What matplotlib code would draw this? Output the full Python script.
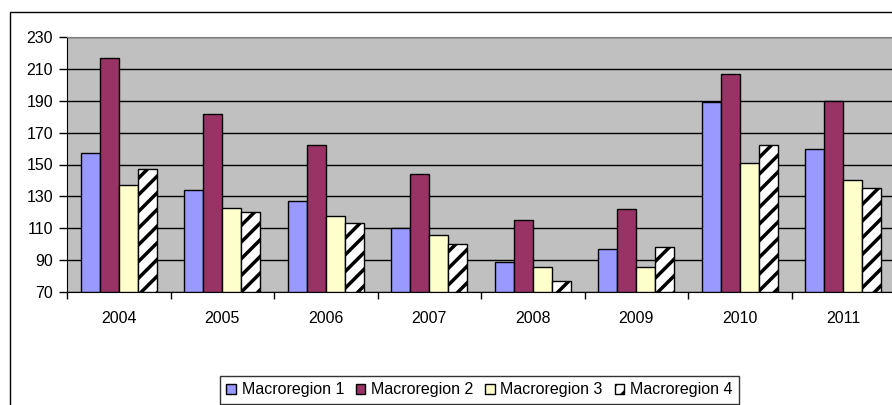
import matplotlib.pyplot as plt
import numpy as np
from matplotlib.patches import Rectangle

plt.rcParams['font.family'] = ['Liberation Sans', 'DejaVu Sans']
plt.rcParams['hatch.linewidth'] = 2.5

# Data
years = ['2004', '2005', '2006', '2007', '2008', '2009', '2010', '2011']
macro1 = [157, 134, 127, 110, 89, 97, 189, 160]
macro2 = [217, 182, 162, 144, 115, 122, 207, 190]
macro3 = [137, 123, 118, 106, 86, 86, 151, 140]
macro4 = [147, 120, 113, 100, 77, 98, 162, 135]
labels = ['Macroregion 1', 'Macroregion 2', 'Macroregion 3', 'Macroregion 4']

fig = plt.figure(figsize=(8.92, 4.05), dpi=100)
ax = fig.add_axes([67 / 892, 1 - 292 / 405, 828 / 892, 255 / 405])
ax.set_facecolor('#C0C0C0')

x = np.arange(len(years))
w = 0.184
series = [macro1, macro2, macro3, macro4]
colors = ['#9999FF', '#993366', '#FFFFCC', 'white']
hatches = [None, None, None, '//']
for i, (vals, c, h, lab) in enumerate(zip(series, colors, hatches, labels)):
    ax.bar(x + (i - 1.5) * w, np.array(vals) - 70, bottom=70, width=w,
           color=c, edgecolor='black', linewidth=1, hatch=h, label=lab, zorder=3)

ax.set_ylim(70, 230)
ax.set_xlim(-0.5, len(years) - 0.5)
ax.set_yticks(range(70, 231, 20))
ax.yaxis.grid(True, color='black', linewidth=1, zorder=1)
ax.set_axisbelow(True)

# category labels centered, ticks on the boundaries
ax.set_xticks(np.arange(len(years) + 1) - 0.5)
ax.set_xticklabels([])
ax.set_xticks(x, minor=True)
ax.set_xticklabels(years, minor=True)
ax.tick_params(axis='x', which='minor', length=0, pad=14, labelsize=11.5)
ax.tick_params(axis='x', which='major', direction='out', length=5, width=1)
ax.tick_params(axis='y', direction='out', length=6, width=1, pad=4, labelsize=11.5)

ax.spines['left'].set_color('black')
ax.spines['bottom'].set_color('black')
ax.spines['top'].set_color('#808080')
ax.spines['right'].set_visible(False)

# outer chart frame
fig.patches.append(Rectangle((10 / 892, -0.1), 1.0, 1 - 12 / 405 + 0.1,
                             transform=fig.transFigure, fill=False,
                             edgecolor='black', linewidth=1))

leg = fig.legend(loc='upper left', bbox_to_anchor=(220 / 892, 1 - 376 / 405),
                 ncol=4, fontsize=11.5, frameon=True, fancybox=False,
                 edgecolor='black', handlelength=0.6, handleheight=0.6,
                 handletextpad=0.35, columnspacing=0.75, borderpad=0.4,
                 borderaxespad=0)
leg.get_frame().set_linewidth(1)

fig.savefig('out.png', dpi=100)
